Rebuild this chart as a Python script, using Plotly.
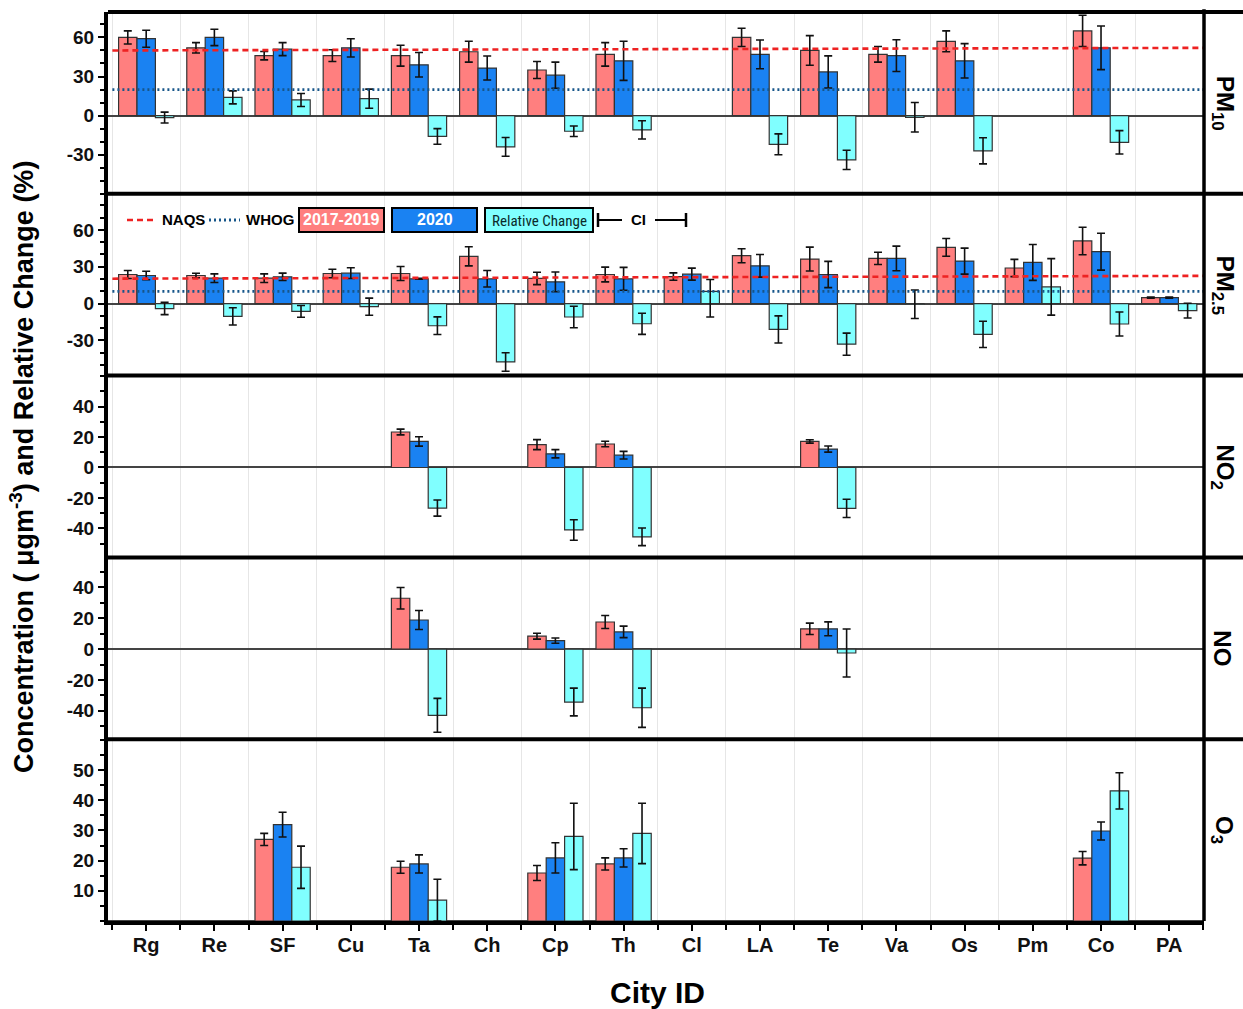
import plotly.graph_objects as go
from plotly.subplots import make_subplots

N = None
CITIES = ["Rg", "Re", "SF", "Cu", "Ta", "Ch", "Cp", "Th", "Cl", "LA", "Te", "Va", "Os", "Pm", "Co", "PA"]

# PM10
PM10_BASE = [60, 52, 46, 46, 46, 49, 35, 47, N, 60, 50, 47, 57, N, 65, N]
PM10_BASE_ERR = [5, 4, 3.2, 4.5, 8, 8, 6.5, 9, N, 7, 11.4, 6, 8, N, 12, N]
PM10_2020 = [59, 60, 51, 52, 39, 36.5, 31, 42, N, 47, 33.5, 46, 42, N, 52, N]
PM10_2020_ERR = [6.5, 6.3, 5, 7, 9.4, 9.2, 10, 15, N, 11, 12.3, 12.2, 13.2, N, 16.7, N]
PM10_RC = [-1.5, 14, 12, 13, -16, -24, -12, -11, N, -22, -34, -1.3, -27, N, -20.5, N]
PM10_RC_ERR = [4.2, 5, 5, 7.3, 6, 7.2, 4, 7, N, 8, 7.4, 11.3, 10, N, 9, N]
PM10_RC_ERR_MINUS = PM10_RC_ERR

# PM2.5
PM25_BASE = [23.7, 22.9, 20.7, 24.5, 24.5, 38.5, 20.5, 23.7, 22, 39, 36.3, 36.8, 45.8, 29, 51, 4.9]
PM25_BASE_ERR = [3.3, 1.8, 3.5, 3.5, 5.7, 7.8, 5, 6, 3, 5.7, 9.7, 5, 7.2, 7, 11.2, 0.4]
PM25_2020 = [22.9, 20.7, 21.8, 24.8, 20.2, 20.2, 17.7, 20.2, 24, 30.8, 23.7, 36.8, 34.6, 33.5, 42.3, 4.9]
PM25_2020_ERR = [3.5, 3.5, 3, 4.4, 0.4, 6.7, 8, 9.3, 4.9, 9.2, 10.7, 10, 10.6, 14.6, 15, 0.4]
PM25_RC = [-4, -10.4, -6.3, -2.5, -18, -47.5, -10.9, -16.4, 10, -21, -33, -0.5, -25, 13.6, -16.6, -5.7]
PM25_RC_ERR = [5, 7, 4.8, 7, 7.2, 7.5, 8.8, 8.6, 9.6, 11, 9, 11.6, 10.7, 23, 9.8, 6]
PM25_RC_ERR_MINUS = [5, 7, 4.8, 7, 7.2, 7.5, 8.8, 8.6, 20.9, 11, 9, 11.6, 10.7, 23, 9.8, 6]

# NO2
NO2_BASE = [N, N, N, N, 23.3, N, 15, 15.4, N, N, 17.1, N, N, N, N, N]
NO2_BASE_ERR = [N, N, N, N, 1.9, N, 3.3, 1.8, N, N, 1.1, N, N, N, N, N]
NO2_2020 = [N, N, N, N, 17.1, N, 9, 8.1, N, N, 12.1, N, N, N, N, N]
NO2_2020_ERR = [N, N, N, N, 3.1, N, 2.7, 2.5, N, N, 2, N, N, N, N, N]
NO2_RC = [N, N, N, N, -26.6, N, -41, -45.5, N, N, -26.8, N, N, N, N, N]
NO2_RC_ERR = [N, N, N, N, 5.3, N, 6.7, 5.8, N, N, 6, N, N, N, N, N]
NO2_RC_ERR_MINUS = NO2_RC_ERR

# NO
NO_BASE = [N, N, N, N, 33, N, 8.4, 17.6, N, N, 13.2, N, N, N, N, N]
NO_BASE_ERR = [N, N, N, N, 7, N, 1.9, 4.2, N, N, 3.7, N, N, N, N, N]
NO_2020 = [N, N, N, N, 18.9, N, 5.5, 11.2, N, N, 13.2, N, N, N, N, N]
NO_2020_ERR = [N, N, N, N, 6.2, N, 1.7, 3.7, N, N, 4.5, N, N, N, N, N]
NO_RC = [N, N, N, N, -42.9, N, -34.3, -38, N, N, -2.5, N, N, N, N, N]
NO_RC_ERR = [N, N, N, N, 11, N, 9, 12.7, N, N, 15.6, N, N, N, N, N]
NO_RC_ERR_MINUS = NO_RC_ERR

# O3
O3_BASE = [N, N, 27, N, 17.8, N, 15.9, 18.9, N, N, N, N, N, N, 20.8, N]
O3_BASE_ERR = [N, N, 2, N, 2, N, 2.5, 2, N, N, N, N, N, N, 2.2, N]
O3_2020 = [N, N, 31.9, N, 18.9, N, 20.9, 20.9, N, N, N, N, N, N, 29.8, N]
O3_2020_ERR = [N, N, 4.1, N, 3, N, 5, 3, N, N, N, N, N, N, 3, N]
O3_RC = [N, N, 17.8, N, 6.9, N, 28, 29, N, N, N, N, N, N, 43.1, N]
O3_RC_ERR = [N, N, 7, N, 6.9, N, 11, 10, N, N, N, N, N, N, 6, N]
O3_RC_ERR_MINUS = O3_RC_ERR

# Reference guidelines (start value, end value)
NAQS_PM10 = [50, 52]
WHOG_PM10 = [20, 20]
NAQS_PM25 = [20.3, 22.6]
WHOG_PM25 = [10, 10]

PANEL_LABELS = ["PM<sub>10</sub>", "PM<sub>2.5</sub>", "NO<sub>2</sub>", "NO", "O<sub>3</sub>"]
SERIES_NAMES = ["2017-2019", "2020", "Relative Change"]

Y_TICKVALS = [[-30, 0, 30, 60], [-30, 0, 30, 60], [-40, -20, 0, 20, 40], [-40, -20, 0, 20, 40], [10, 20, 30, 40, 50]]
Y_TICKTEXT = [["-30", "0", "30", "60"], ["-30", "0", "30", "60"], ["-40", "-20", "0", "20", "40"],
              ["-40", "-20", "0", "20", "40"], ["10", "20", "30", "40", "50"]]

RED = "#FF7F7F"
BLUE = "#1A82F2"
CYAN = "#80FFFF"
NAQS_COLOR = "#EE2222"
WHOG_COLOR = "#17568A"
FONT = "Liberation Sans, Arial, sans-serif"

panels = [
    (PM10_BASE, PM10_BASE_ERR, PM10_2020, PM10_2020_ERR, PM10_RC, PM10_RC_ERR, PM10_RC_ERR_MINUS),
    (PM25_BASE, PM25_BASE_ERR, PM25_2020, PM25_2020_ERR, PM25_RC, PM25_RC_ERR, PM25_RC_ERR_MINUS),
    (NO2_BASE, NO2_BASE_ERR, NO2_2020, NO2_2020_ERR, NO2_RC, NO2_RC_ERR, NO2_RC_ERR_MINUS),
    (NO_BASE, NO_BASE_ERR, NO_2020, NO_2020_ERR, NO_RC, NO_RC_ERR, NO_RC_ERR_MINUS),
    (O3_BASE, O3_BASE_ERR, O3_2020, O3_2020_ERR, O3_RC, O3_RC_ERR, O3_RC_ERR_MINUS),
]

y_ranges = [[-60, 79.5], [-58.6, 89.4], [-59, 60.3], [-58.4, 59.5], [0, 60.2]]
y_minor = [10, 10, 10, 10, 5]

W, H = 1243, 1009
ML, MR, MT, MB = 108, 39, 12, 88
PW, PH = W - ML - MR, H - MT - MB


def px(xp):
    return (xp - ML) / PW


def py(yp):
    return (H - MB - yp) / PH


fig = make_subplots(rows=5, cols=1, shared_xaxes=True, vertical_spacing=0)
x = list(range(len(CITIES)))

for r, (b, be, n, ne, rc, rce, rcem) in enumerate(panels, start=1):
    for vals, errs, errm, color, name in [
        (b, be, be, RED, SERIES_NAMES[0]),
        (n, ne, ne, BLUE, SERIES_NAMES[1]),
        (rc, rce, rcem, CYAN, SERIES_NAMES[2]),
    ]:
        fig.add_trace(go.Bar(
            x=x, y=vals, name=name, showlegend=False,
            marker=dict(color=color, line=dict(color="#333333", width=1.2)),
            error_y=dict(type="data", array=errs, arrayminus=errm, symmetric=False,
                         color="#111111", thickness=1.6, width=4),
        ), row=r, col=1)

fig.update_layout(barmode="group", bargap=0.19, bargroupgap=0)

# guideline lines
for yref, naqs, whog in [("y", NAQS_PM10, WHOG_PM10), ("y2", NAQS_PM25, WHOG_PM25)]:
    xd = "x domain" if yref == "y" else "x2 domain"
    fig.add_shape(type="line", xref=xd, yref=yref, x0=0.004, x1=1, y0=naqs[0], y1=naqs[1],
                  line=dict(color=NAQS_COLOR, width=2.6, dash="6px,4px"))
    fig.add_shape(type="line", xref=xd, yref=yref, x0=0.004, x1=1, y0=whog[0], y1=whog[1],
                  line=dict(color=WHOG_COLOR, width=2.8, dash="2px,3px"))

for r in range(1, 6):
    fig.update_yaxes(
        row=r, col=1, range=y_ranges[r - 1], tickvals=Y_TICKVALS[r - 1], ticktext=Y_TICKTEXT[r - 1],
        showgrid=False, zeroline=True, zerolinecolor="#444444", zerolinewidth=1.5,
        showline=True, linecolor="black", linewidth=4, mirror=False,
        ticks="outside", ticklen=6, tickwidth=2, tickcolor="black",
        tickfont=dict(family=FONT, size=19, color="#111111", weight="bold"),
        minor=dict(dtick=y_minor[r - 1], tick0=0, ticks="outside", ticklen=4, tickwidth=1.5,
                   tickcolor="black", showgrid=False),
    )
    fig.update_xaxes(
        row=r, col=1, range=[-0.56, 15.51], tickvals=x, ticktext=CITIES,
        showgrid=False, zeroline=False,
        minor=dict(tick0=0.5, dtick=1, showgrid=True, gridcolor="#E6E6E6", gridwidth=1,
                   ticks="outside" if r == 5 else "", ticklen=5, tickwidth=1.5, tickcolor="black"),
        showline=(r == 5), linecolor="black", linewidth=4,
        ticks="outside" if r == 5 else "", ticklen=6, tickwidth=1.5, tickcolor="black",
        ticklabelstandoff=-3,
        tickfont=dict(family=FONT, size=20, color="#111111", weight="bold"),
    )

shapes = []
# panel borders (top + separators), extending across right label strip
for k in range(5):
    yb = 1 - k * 0.2
    shapes.append(dict(type="line", xref="paper", yref="paper", x0=0, x1=1.05, y0=yb, y1=yb,
                       line=dict(color="black", width=4)))
shapes.append(dict(type="line", xref="paper", yref="paper", x0=1, x1=1, y0=0, y1=1.003,
                   line=dict(color="black", width=3.5)))

# legend drawn inside PM2.5 panel
ly = 220
shapes.append(dict(type="line", xref="paper", yref="paper", x0=px(127), x1=px(157), y0=py(ly), y1=py(ly),
                   line=dict(color=NAQS_COLOR, width=2.6, dash="6px,4px")))
shapes.append(dict(type="line", xref="paper", yref="paper", x0=px(209), x1=px(240), y0=py(ly), y1=py(ly),
                   line=dict(color=WHOG_COLOR, width=2.8, dash="2px,3px")))
boxes = [(299, 384, RED), (392, 477, BLUE), (485, 593, CYAN)]
for x0, x1, c in boxes:
    shapes.append(dict(type="rect", xref="paper", yref="paper", x0=px(x0), x1=px(x1), y0=py(232), y1=py(208),
                       fillcolor=c, line=dict(color="black", width=2)))
# CI symbol
for a, bb in [(598, 622), (655, 686)]:
    shapes.append(dict(type="line", xref="paper", yref="paper", x0=px(a), x1=px(bb), y0=py(ly), y1=py(ly),
                       line=dict(color="black", width=2)))
for cx in [598, 686]:
    shapes.append(dict(type="line", xref="paper", yref="paper", x0=px(cx), x1=px(cx), y0=py(213), y1=py(227),
                       line=dict(color="black", width=2.5)))

annotations = []
lab_font = dict(family=FONT, size=15, color="black", weight="bold")
annotations.append(dict(xref="paper", yref="paper", x=px(160), y=py(ly), text="NAQS", showarrow=False,
                        xanchor="left", yanchor="middle", font=lab_font))
annotations.append(dict(xref="paper", yref="paper", x=px(244), y=py(ly), text="WHOG", showarrow=False,
                        xanchor="left", yanchor="middle", font=lab_font))
annotations.append(dict(xref="paper", yref="paper", x=px(341.5), y=py(ly), text=SERIES_NAMES[0], showarrow=False,
                        xanchor="center", yanchor="middle",
                        font=dict(family=FONT, size=16, color="white", weight="bold")))
annotations.append(dict(xref="paper", yref="paper", x=px(434.5), y=py(ly), text=SERIES_NAMES[1], showarrow=False,
                        xanchor="center", yanchor="middle",
                        font=dict(family=FONT, size=16, color="white", weight="bold")))
annotations.append(dict(xref="paper", yref="paper", x=px(539), y=py(ly + 1), text=SERIES_NAMES[2], showarrow=False,
                        xanchor="center", yanchor="middle",
                        font=dict(family="Liberation Sans Narrow, Roboto Condensed, Liberation Sans", size=15,
                                  color="#0b2a2a")))
annotations.append(dict(xref="paper", yref="paper", x=px(638), y=py(ly), text="CI", showarrow=False,
                        xanchor="center", yanchor="middle", font=lab_font))

# right strip panel labels
for k, lab in enumerate(PANEL_LABELS):
    yc = 1 - 0.2 * k - 0.1
    annotations.append(dict(xref="paper", yref="paper", x=px(1223), y=yc, text=lab, showarrow=False,
                            textangle=90, xanchor="center", yanchor="middle",
                            font=dict(family=FONT, size=24, color="black", weight="bold")))

# axis titles
annotations.append(dict(xref="paper", yref="paper", x=px(22), y=py(467),
                        text="Concentration ( μgm<sup>-3</sup>) and Relative Change (%)",
                        showarrow=False, textangle=-90, xanchor="center", yanchor="middle",
                        font=dict(family=FONT, size=27, color="black", weight="bold")))
annotations.append(dict(xref="paper", yref="paper", x=px(657), y=py(992), text="City ID",
                        showarrow=False, xanchor="center", yanchor="middle",
                        font=dict(family=FONT, size=30, color="black", weight="bold")))

fig.update_layout(
    width=W, height=H, margin=dict(l=ML, r=MR, t=MT, b=MB),
    plot_bgcolor="white", paper_bgcolor="white",
    shapes=list(fig.layout.shapes) + shapes, annotations=annotations,
    showlegend=False, font=dict(family=FONT),
)

fig.write_html("out.html")
